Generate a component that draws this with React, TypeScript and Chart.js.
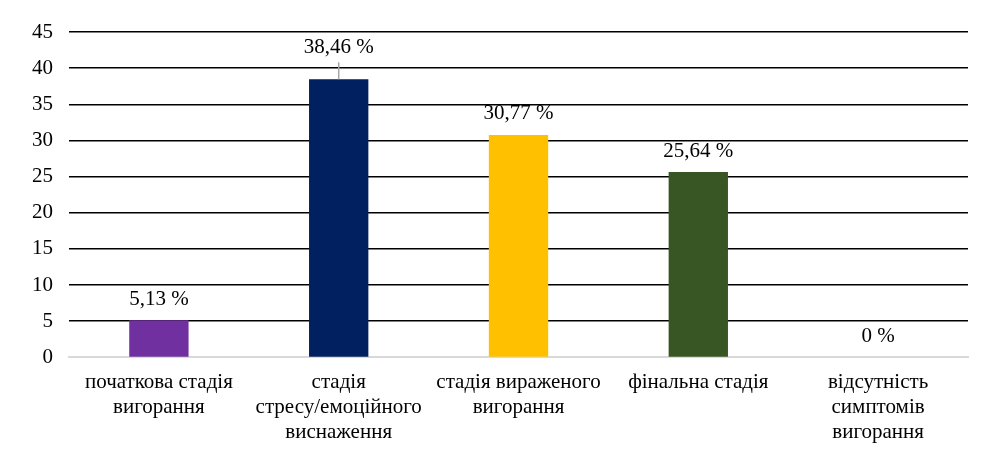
import { useRef, useEffect } from 'react'
import { Chart, registerables } from 'chart.js'

Chart.register(...registerables)

const categories: string[][] = [
  ['початкова стадія', 'вигорання'],
  ['стадія', 'стресу/емоційного', 'виснаження'],
  ['стадія вираженого', 'вигорання'],
  ['фінальна стадія'],
  ['відсутність', 'симптомів', 'вигорання'],
]
const values = [5.13, 38.46, 30.77, 25.64, 0]
const barColors = ['#7030a0', '#002060', '#ffc000', '#375623', '#a5a5a5']
const valueLabels = ['5,13 %', '38,46 %', '30,77 %', '25,64 %', '0 %']

const FONT = '"Liberation Serif", "Times New Roman", serif'

const labelPlugin = {
  id: 'valueLabels',
  afterDatasetsDraw(chart: Chart) {
    const { ctx } = chart
    const meta = chart.getDatasetMeta(0)
    ctx.save()
    ctx.font = `21px ${FONT}`
    ctx.fillStyle = '#000'
    ctx.textAlign = 'center'
    ctx.textBaseline = 'middle'
    meta.data.forEach((bar: any, i: number) => {
      // the tallest label sits higher, above the 40 gridline, with a leader line
      const lifted = i === 1
      const y = bar.y - (lifted ? 32 : 21)
      if (lifted) {
        ctx.strokeStyle = '#a6a6a6'
        ctx.lineWidth = 1.5
        ctx.beginPath()
        ctx.moveTo(bar.x, y + 15)
        ctx.lineTo(bar.x, bar.y)
        ctx.stroke()
      }
      ctx.fillText(valueLabels[i], bar.x, y)
    })
    ctx.restore()
  },
}

function BarChart() {
  const canvasRef = useRef<HTMLCanvasElement>(null)
  const chartRef = useRef<Chart | null>(null)

  useEffect(() => {
    if (!canvasRef.current) return
    document.body.style.margin = '0'
    chartRef.current?.destroy()

    chartRef.current = new Chart(canvasRef.current, {
      type: 'bar',
      data: {
        labels: categories,
        datasets: [{
          data: values,
          backgroundColor: barColors,
          borderWidth: 0,
          categoryPercentage: 1,
          barPercentage: 0.33,
        }],
      },
      options: {
        animation: false,
        responsive: true,
        maintainAspectRatio: false,
        layout: { padding: { top: 32, right: 24, left: 16, bottom: 6 } },
        plugins: {
          legend: { display: false },
          tooltip: { enabled: false },
        },
        scales: {
          x: {
            grid: { display: false },
            border: { color: '#d9d9d9', width: 2 },
            ticks: {
              color: '#000',
              font: { family: FONT, size: 21, lineHeight: 1.2 },
              maxRotation: 0,
              autoSkip: false,
              padding: 4,
            },
          },
          y: {
            min: 0,
            max: 45,
            ticks: {
              stepSize: 5,
              color: '#000',
              font: { family: FONT, size: 21 },
              padding: 16,
            },
            grid: {
              color: (c: any) => (c.tick.value === 0 ? 'rgba(0,0,0,0)' : '#000'),
              lineWidth: 1.5,
              drawTicks: false,
            },
            border: { display: false },
          },
        },
      },
      plugins: [labelPlugin],
    })

    return () => { chartRef.current?.destroy() }
  }, [])

  return <canvas ref={canvasRef} />
}

export default function App() {
  return (
    <div style={{ width: 992, height: 455, position: 'relative', background: '#fff' }}>
      <BarChart />
    </div>
  )
}
